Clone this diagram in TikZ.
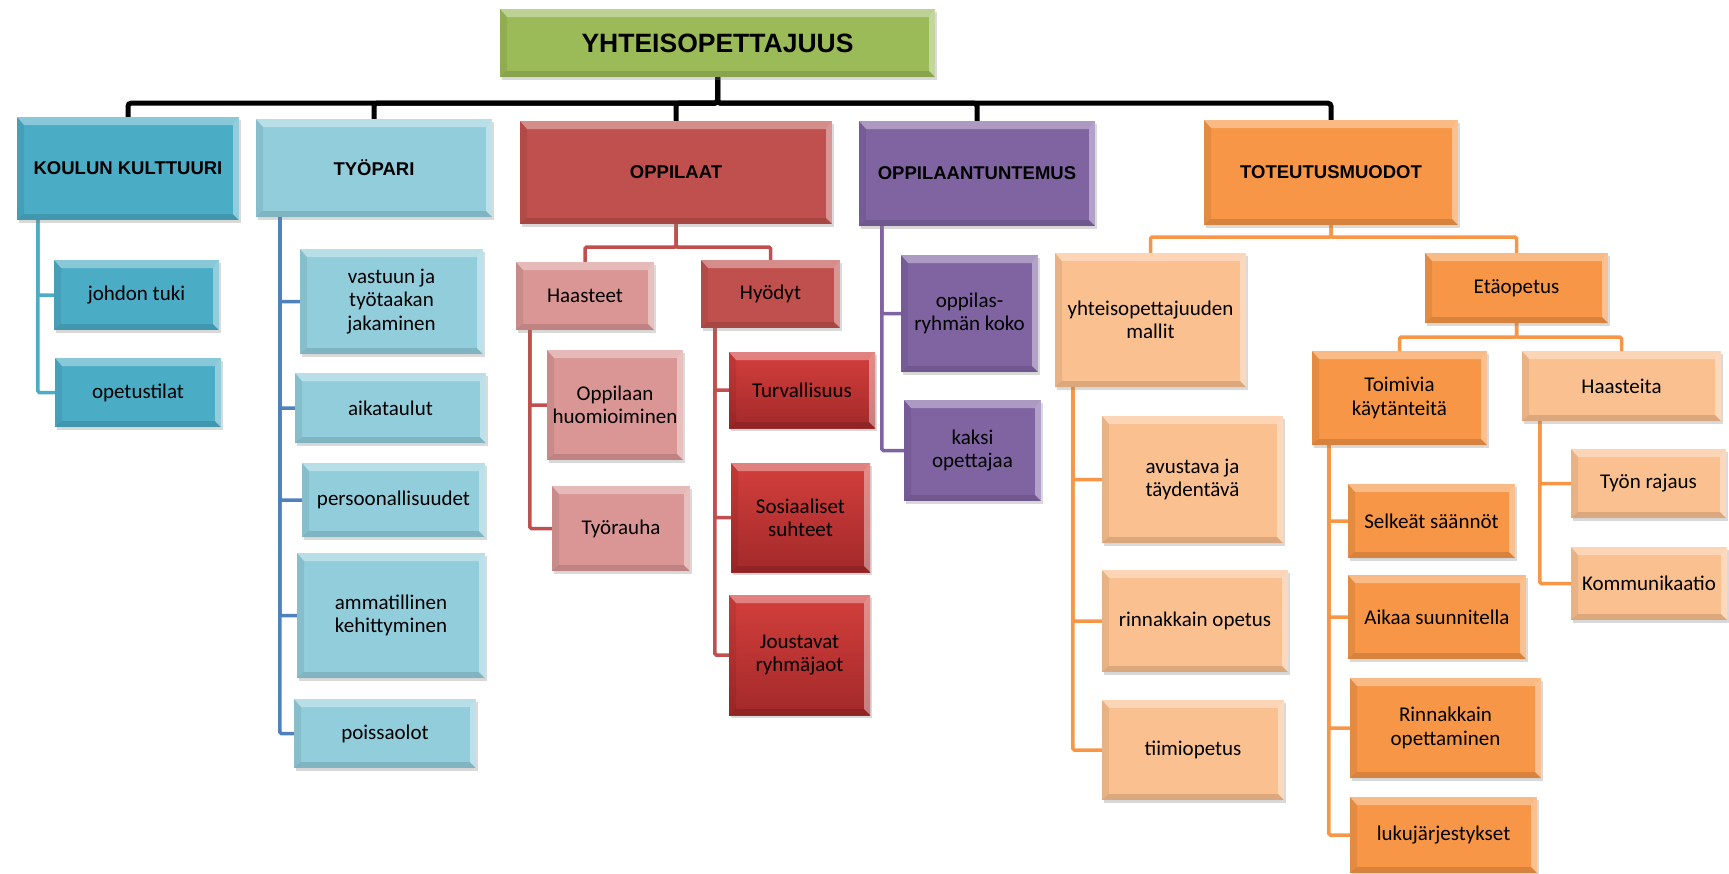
\documentclass[tikz,border=0pt]{standalone}
\usepackage{fontspec}
\setmainfont{Carlito}
\newfontfamily\hdfont{Liberation Sans}
\usetikzlibrary{shadows}
\pgfdeclarelayer{bg}
\pgfsetlayers{bg,main}

\definecolor{cGreen}{HTML}{9BBB59}
\definecolor{cAqua}{HTML}{4BACC6}
\definecolor{cLtBlue}{HTML}{92CDDC}
\definecolor{cBlueLine}{HTML}{4F81BD}
\definecolor{cRed}{HTML}{C0504D}
\definecolor{cPink}{HTML}{D99694}
\definecolor{cBrTop}{HTML}{D33F3C}
\definecolor{cBrBot}{HTML}{A3292A}
\definecolor{cPurple}{HTML}{8064A2}
\definecolor{cOrange}{HTML}{F79646}
\definecolor{cLtOrange}{HTML}{FAC090}

\newcommand\bodyf{\fontsize{21}{23.3}\selectfont}
\newcommand\headf{\hdfont\bfseries\fontsize{18.5}{21}\selectfont}
\newcommand\rootf{\hdfont\bfseries\fontsize{26.5}{30}\selectfont}

\tikzset{
  bevel/.style={path picture={
    \fill[white,fill opacity=0.35]
      (path picture bounding box.north west) -- (path picture bounding box.north east)
      -- ([shift={(-6pt,-8pt)}]path picture bounding box.north east)
      -- ([shift={(7pt,-8pt)}]path picture bounding box.north west) -- cycle;
    \fill[black,fill opacity=0.12]
      (path picture bounding box.south west) -- (path picture bounding box.south east)
      -- ([shift={(-6pt,6pt)}]path picture bounding box.south east)
      -- ([shift={(7pt,6pt)}]path picture bounding box.south west) -- cycle;
    \fill[black,fill opacity=0.07]
      (path picture bounding box.north west) -- ([shift={(7pt,-8pt)}]path picture bounding box.north west)
      -- ([shift={(7pt,6pt)}]path picture bounding box.south west)
      -- (path picture bounding box.south west) -- cycle;
    \fill[white,fill opacity=0.4]
      (path picture bounding box.north east) -- ([shift={(-6pt,-8pt)}]path picture bounding box.north east)
      -- ([shift={(-6pt,6pt)}]path picture bounding box.south east)
      -- (path picture bounding box.south east) -- cycle;
  }},
  box/.style={rectangle, inner sep=2pt, align=center, fill=#1, bevel,
    drop shadow={shadow xshift=2pt, shadow yshift=-3pt, opacity=0.3},
    font=\bodyf, text=black},
  hbox/.style={box=#1, font=\headf},
  brbox/.style={box=cRed, top color=cBrTop, bottom color=cBrBot},
  conn/.style={draw=#1, line width=3.5pt, rounded corners=1.5pt},
  bus/.style={draw=black, line width=5pt, rounded corners=3pt},
}

\begin{document}
\begin{tikzpicture}[x=1pt,y=-1pt]
\useasboundingbox (0,0) rectangle (1729,873);

% root
\node[hbox=cGreen, minimum width=435, minimum height=68, font=\rootf] (root) at (717.5,43) {YHTEISOPETTAJUUS};

% level 1
\node[hbox=cAqua, minimum width=222, minimum height=103] (kk) at (128,168.5) {KOULUN KULTTUURI};
\node[hbox=cLtBlue, minimum width=236, minimum height=98] (tp) at (374,168) {TYÖPARI};
\node[hbox=cRed, minimum width=312, minimum height=103] (op) at (676,172.5) {OPPILAAT};
\node[hbox=cPurple, minimum width=236, minimum height=105] (ou) at (977,173.5) {OPPILAANTUNTEMUS};
\node[hbox=cOrange, minimum width=254, minimum height=105] (tm) at (1331,172.5) {TOTEUTUSMUODOT};

% koulun kulttuuri
\node[box=cAqua, minimum width=165, minimum height=70] (jt) at (136.5,295) {johdon tuki};
\node[box=cAqua, minimum width=166, minimum height=69] (ots) at (138,392.5) {opetustilat};

% tyopari
\node[box=cLtBlue, minimum width=183, minimum height=105] (va) at (391.5,301.5) {vastuun ja\\työtaakan\\jakaminen};
\node[box=cLtBlue, minimum width=191, minimum height=70] (ai) at (390.5,408) {aikataulut};
\node[box=cLtBlue, minimum width=183, minimum height=74] (pe) at (393.5,500) {persoonallisuudet};
\node[box=cLtBlue, minimum width=188, minimum height=125] (am) at (391,615.5) {ammatillinen\\kehittyminen};
\node[box=cLtBlue, minimum width=182, minimum height=69] (po) at (385,733.5) {poissaolot};

% oppilaat
\node[box=cPink, minimum width=138, minimum height=68] (ha) at (585,296) {Haasteet};
\node[box=cRed, minimum width=139, minimum height=68] (hy) at (770.5,294) {Hyödyt};
\node[box=cPink, minimum width=136, minimum height=110] (oh) at (615,405) {Oppilaan\\huomioiminen};
\node[box=cPink, minimum width=138, minimum height=85] (tr) at (621,528.5) {Työrauha};
\node[brbox, minimum width=146, minimum height=76] (tu) at (802,390) {Turvallisuus};
\node[brbox, minimum width=139, minimum height=109] (so) at (800.5,517.5) {Sosiaaliset\\suhteet};
\node[brbox, minimum width=141, minimum height=120] (jo) at (799.5,655) {Joustavat\\ryhmäjaot};

% oppilaantuntemus
\node[box=cPurple, minimum width=137, minimum height=117] (rk) at (969.5,313.5) {oppilas-\\ryhmän koko};
\node[box=cPurple, minimum width=137, minimum height=101] (ko) at (972.5,450.5) {kaksi\\opettajaa};

% toteutusmuodot
\node[box=cLtOrange, minimum width=191, minimum height=134] (ym) at (1150.5,320) {yhteisopettajuuden\\mallit};
\node[box=cOrange, minimum width=183, minimum height=70] (et) at (1516.5,288) {Etäopetus};
\node[box=cLtOrange, minimum width=181, minimum height=127] (av) at (1192.5,479.5) {avustava ja\\täydentävä};
\node[box=cLtOrange, minimum width=186, minimum height=102] (ri) at (1195,621) {rinnakkain opetus};
\node[box=cLtOrange, minimum width=182, minimum height=100] (ti) at (1193,750) {tiimiopetus};
\node[box=cOrange, minimum width=175, minimum height=94] (tk) at (1399.5,398) {Toimivia\\käytänteitä};
\node[box=cLtOrange, minimum width=199, minimum height=70] (hs) at (1621.5,386) {Haasteita};
\node[box=cOrange, minimum width=167, minimum height=74] (se) at (1431.5,521) {Selkeät säännöt};
\node[box=cOrange, minimum width=178, minimum height=84] (ak) at (1437,617) {Aikaa suunnitella};
\node[box=cOrange, minimum width=191, minimum height=100] (ro) at (1445.5,728) {Rinnakkain\\opettaminen};
\node[box=cOrange, minimum width=187, minimum height=76] (lu) at (1443.5,835) {lukujärjestykset};
\node[box=cLtOrange, minimum width=155, minimum height=69] (tyr) at (1648.5,483.5) {Työn rajaus};
\node[box=cLtOrange, minimum width=156, minimum height=73] (km) at (1649,583.5) {Kommunikaatio};

\begin{pgfonlayer}{bg}
  % root bus
  \foreach \c in {kk,tp,op,ou,tm}
    \draw[bus] (root.south) -- ++(0,26) -| (\c.north);
  % koulun kulttuuri
  \foreach \c in {jt,ots}
    \draw[conn=cAqua] ([xshift=21pt]kk.south west) |- (\c.west);
  % tyopari
  \foreach \c in {va,ai,pe,am,po}
    \draw[conn=cBlueLine] ([xshift=24pt]tp.south west) |- (\c.west);
  % oppilaat
  \foreach \c in {ha,hy}
    \draw[conn=cRed] (op.south) -- ++(0,23) -| (\c.north);
  \foreach \c in {oh,tr}
    \draw[conn=cRed] ([xshift=14pt]ha.south west) |- (\c.west);
  \foreach \c in {tu,so,jo}
    \draw[conn=cRed] ([xshift=14pt]hy.south west) |- (\c.west);
  % oppilaantuntemus
  \foreach \c in {rk,ko}
    \draw[conn=cPurple] ([xshift=23pt]ou.south west) |- (\c.west);
  % toteutusmuodot
  \foreach \c in {ym,et}
    \draw[conn=cOrange] (tm.south) -- ++(0,12) -| (\c.north);
  \foreach \c in {av,ri,ti}
    \draw[conn=cOrange] ([xshift=18pt]ym.south west) |- (\c.west);
  \foreach \c in {tk,hs}
    \draw[conn=cOrange] (et.south) -- ++(0,14) -| (\c.north);
  \foreach \c in {se,ak,ro,lu}
    \draw[conn=cOrange] ([xshift=17pt]tk.south west) |- (\c.west);
  \foreach \c in {tyr,km}
    \draw[conn=cOrange] ([xshift=18pt]hs.south west) |- (\c.west);
\end{pgfonlayer}
\end{tikzpicture}
\end{document}
